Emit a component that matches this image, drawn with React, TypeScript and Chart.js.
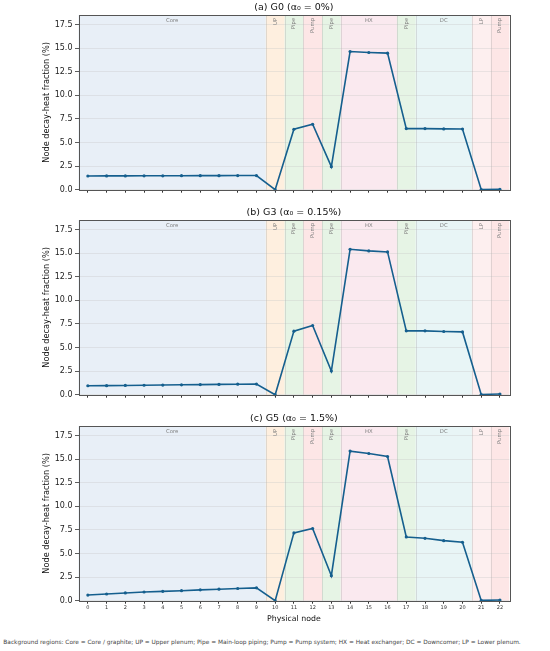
import React, { useEffect, useRef } from "react";
import { Chart, registerables } from "chart.js";

Chart.register(...registerables);

const nodes = [0, 1, 2, 3, 4, 5, 6, 7, 8, 9, 10, 11, 12, 13, 14, 15, 16, 17, 18, 19, 20, 21, 22];

const g0Values = [1.45, 1.46, 1.46, 1.47, 1.47, 1.48, 1.49, 1.49, 1.5, 1.5, 0.0, 6.4, 6.93, 2.44, 14.63, 14.53, 14.46, 6.47, 6.47, 6.44, 6.43, 0.02, 0.03];
const g3Values = [0.95, 0.96, 0.98, 1.0, 1.02, 1.05, 1.07, 1.09, 1.11, 1.13, 0.0, 6.73, 7.33, 2.51, 15.4, 15.23, 15.12, 6.76, 6.76, 6.69, 6.65, 0.02, 0.07];
const g5Values = [0.6, 0.71, 0.82, 0.92, 0.99, 1.06, 1.15, 1.22, 1.29, 1.36, 0.0, 7.18, 7.64, 2.65, 15.84, 15.59, 15.27, 6.75, 6.61, 6.36, 6.19, 0.03, 0.07];

const panelTitles = ["(a) G0 (α₀ = 0%)", "(b) G3 (α₀ = 0.15%)", "(c) G5 (α₀ = 1.5%)"];

const regionLabels = ["Core", "UP", "Pipe", "Pump", "Pipe", "HX", "Pipe", "DC", "LP", "Pump"];
const regionStarts = [-0.5, 9.5, 10.5, 11.5, 12.5, 13.5, 16.5, 17.5, 20.5, 21.5];
const regionEnds = [9.5, 10.5, 11.5, 12.5, 13.5, 16.5, 17.5, 20.5, 21.5, 22.5];
const regionColors = [
  "rgba(214,226,241,0.55)",
  "rgba(253,228,201,0.6)",
  "rgba(214,236,212,0.6)",
  "rgba(251,214,214,0.6)",
  "rgba(214,236,212,0.6)",
  "rgba(246,215,226,0.55)",
  "rgba(214,236,212,0.6)",
  "rgba(214,237,238,0.55)",
  "rgba(252,224,224,0.5)",
  "rgba(251,214,214,0.6)",
];

const yTickValues = [0, 2.5, 5, 7.5, 10, 12.5, 15, 17.5];
const yMax = 18.5;

const footnote =
  "Background regions: Core = Core / graphite; UP = Upper plenum; Pipe = Main-loop piping; Pump = Pump system; HX = Heat exchanger; DC = Downcomer; LP = Lower plenum.";

const FONT = "'DejaVu Sans', sans-serif";
const LINE_COLOR = "#155f8e";

const regionPlugin = {
  id: "regions",
  beforeDraw(chart: any) {
    const { ctx, chartArea } = chart;
    const xs = chart.scales.x;
    ctx.save();
    for (let i = 0; i < regionLabels.length; i++) {
      const x0 = xs.getPixelForValue(regionStarts[i]);
      const x1 = xs.getPixelForValue(regionEnds[i]);
      ctx.fillStyle = regionColors[i];
      ctx.fillRect(x0, chartArea.top, x1 - x0, chartArea.bottom - chartArea.top);
    }
    ctx.restore();
  },
  beforeDatasetsDraw(chart: any) {
    const { ctx, chartArea } = chart;
    const xs = chart.scales.x;
    ctx.save();
    ctx.strokeStyle = "rgba(170,170,170,0.45)";
    ctx.lineWidth = 0.8;
    for (let i = 1; i < regionStarts.length; i++) {
      const x = Math.round(xs.getPixelForValue(regionStarts[i])) + 0.5;
      ctx.beginPath();
      ctx.moveTo(x, chartArea.top);
      ctx.lineTo(x, chartArea.bottom);
      ctx.stroke();
    }
    ctx.fillStyle = "#808080";
    ctx.font = `5.3px ${FONT}`;
    for (let i = 0; i < regionLabels.length; i++) {
      const x0 = xs.getPixelForValue(regionStarts[i]);
      const x1 = xs.getPixelForValue(regionEnds[i]);
      const cx = (x0 + x1) / 2;
      const wide = regionEnds[i] - regionStarts[i] > 1.5;
      if (wide) {
        ctx.textAlign = "center";
        ctx.textBaseline = "top";
        ctx.fillText(regionLabels[i], cx, chartArea.top + 3);
      } else {
        ctx.save();
        ctx.translate(cx, chartArea.top + 3);
        ctx.rotate(-Math.PI / 2);
        ctx.textAlign = "right";
        ctx.textBaseline = "middle";
        ctx.fillText(regionLabels[i], 0, 0);
        ctx.restore();
      }
    }
    ctx.restore();
  },
  afterDraw(chart: any) {
    const { ctx, chartArea } = chart;
    ctx.save();
    ctx.strokeStyle = "#555";
    ctx.lineWidth = 1;
    ctx.strokeRect(
      Math.round(chartArea.left) + 0.5,
      Math.round(chartArea.top) + 0.5,
      Math.round(chartArea.right - chartArea.left),
      Math.round(chartArea.bottom - chartArea.top)
    );
    ctx.restore();
  },
};

function Panel({ values, title, showX, height }: { values: number[]; title: string; showX: boolean; height: number }) {
  const ref = useRef<HTMLCanvasElement>(null);
  useEffect(() => {
    if (!ref.current) return;
    const chart = new Chart(ref.current, {
      type: "line",
      data: {
        datasets: [
          {
            data: nodes.map((n, i) => ({ x: n, y: values[i] })),
            borderColor: LINE_COLOR,
            backgroundColor: LINE_COLOR,
            borderWidth: 1.6,
            pointRadius: 1.6,
            pointHoverRadius: 1.6,
            pointBorderWidth: 0,
            tension: 0,
            clip: false,
          } as any,
        ],
      },
      options: {
        animation: false,
        responsive: false,
        devicePixelRatio: 1,
        events: [],
        layout: { padding: { left: 38, right: 40.7, top: 0, bottom: 0 } },
        plugins: {
          legend: { display: false },
          tooltip: { enabled: false },
          title: {
            display: true,
            fullSize: false,
            text: title,
            color: "#111",
            font: { family: FONT, size: 9.5, weight: "normal", lineHeight: 1.2 },
            padding: { top: 1.6, bottom: 2 },
          },
        },
        scales: {
          x: {
            type: "linear",
            min: -0.5,
            max: 22.5,
            afterBuildTicks: (scale: any) => {
              scale.ticks = nodes.map((v) => ({ value: v }));
            },
            afterFit: (scale: any) => {
              scale.height = height - 189.7;
            },
            grid: {
              drawOnChartArea: false,
              drawTicks: true,
              tickLength: 3,
              tickColor: "#333",
              color: "#333",
            },
            border: { display: false },
            ticks: {
              display: showX,
              autoSkip: false,
              maxRotation: 0,
              padding: 1,
              color: "#333",
              font: { family: FONT, size: 5 },
              callback: (v: any) => String(v),
            },
            title: {
              display: showX,
              text: "Physical node",
              color: "#111",
              font: { family: FONT, size: 7.8 },
              padding: { top: 0, bottom: 7 },
            },
          },
          y: {
            type: "linear",
            min: 0,
            max: yMax,
            afterBuildTicks: (scale: any) => {
              scale.ticks = yTickValues.map((v) => ({ value: v }));
            },
            afterFit: (scale: any) => {
              scale.width = 40.5;
            },
            grid: {
              color: "rgba(200,200,200,0.45)",
              lineWidth: 0.8,
              drawTicks: true,
              tickLength: 3.5,
              tickColor: "#333",
            },
            border: { display: false },
            ticks: {
              padding: 2.5,
              color: "#222",
              font: { family: FONT, size: 8 },
              callback: (v: any) => Number(v).toFixed(1),
            },
            title: {
              display: true,
              text: "Node decay-heat fraction (%)",
              color: "#111",
              font: { family: FONT, size: 8.2 },
              padding: { top: 4, bottom: 0 },
            },
          },
        },
      },
      plugins: [regionPlugin],
    });
    return () => chart.destroy();
  }, [values, title, showX, height]);
  return <canvas ref={ref} width={550} height={height} style={{ display: "block", width: 550, height }} />;
}

export default function App() {
  const series = [g0Values, g3Values, g5Values];
  const tops = [0, 205.3, 410.6];
  return (
    <div style={{ position: "absolute", left: 0, top: 0, width: 550, height: 651, background: "#fff", overflow: "hidden" }}>
      {series.map((vals, i) => (
        <div key={i} style={{ position: "absolute", left: 0, top: tops[i] }}>
          <Panel values={vals} title={panelTitles[i]} showX={i === 2} height={i === 2 ? 220 : 200} />
        </div>
      ))}
      <div
        style={{
          position: "absolute",
          left: 3.3,
          top: 639.3,
          fontFamily: FONT,
          fontSize: 5.85,
          lineHeight: "7px",
          color: "#444",
          whiteSpace: "nowrap",
        }}
      >
        {footnote}
      </div>
    </div>
  );
}
